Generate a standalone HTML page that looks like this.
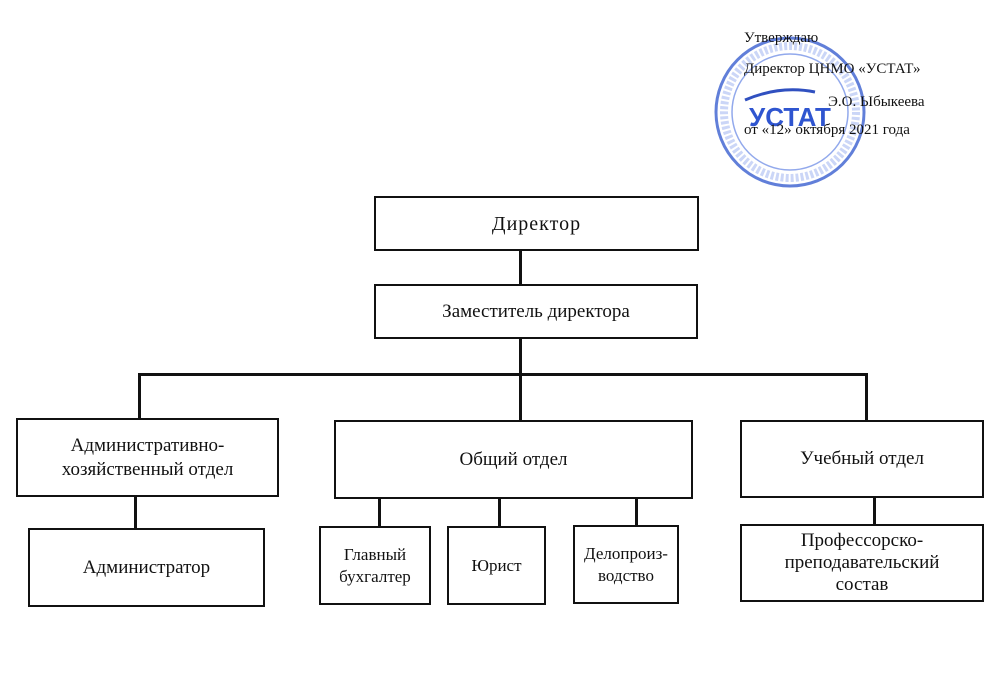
<!DOCTYPE html>
<html><head><meta charset="utf-8"><style>
html,body{margin:0;padding:0;background:#fff}
body{width:1000px;height:696px;position:relative;overflow:hidden;font-family:"Liberation Serif","DejaVu Serif",serif;color:#111}
.b{position:absolute;border:2.5px solid #111;box-sizing:border-box;display:flex;align-items:center;justify-content:center;text-align:center;font-size:19px;line-height:24px;background:#fff}
.l{position:absolute;background:#111}
.t{position:absolute;font-size:15px;white-space:nowrap}
</style></head><body>
<svg style="position:absolute;left:0;top:0" width="1000" height="696">
<circle cx="790" cy="112" r="74" fill="none" stroke="#3a5fd0" stroke-width="3" opacity="0.8"/>
<circle cx="790" cy="112" r="58" fill="none" stroke="#4a6fe0" stroke-width="1.5" opacity="0.6"/>
<circle cx="790" cy="112" r="66" fill="none" stroke="#6a8ae8" stroke-width="8" opacity="0.35" stroke-dasharray="3 2"/>
<text x="790" y="126" text-anchor="middle" font-family="Liberation Sans,sans-serif" font-weight="bold" font-size="26" fill="#2f55d0">УСТАТ</text>
<path d="M745 100 Q780 85 815 92" stroke="#3050c0" stroke-width="3" fill="none"/>
</svg>
<div class="t" style="left:744px;top:30px">Утверждаю</div>
<div class="t" style="left:744px;top:61px">Директор ЦНМО «УСТАТ»</div>
<div class="t" style="left:828px;top:94px">Э.О. Ыбыкеева</div>
<div class="t" style="left:744px;top:122px">от «12» октября 2021 года</div>

<div class="b" style="left:374px;top:196px;width:325px;height:55px;font-size:20px;letter-spacing:1px">Директор</div>
<div class="l" style="left:519px;top:250px;width:2.5px;height:35px"></div>
<div class="b" style="left:374px;top:284px;width:324px;height:55px">Заместитель директора</div>
<div class="l" style="left:519px;top:338px;width:2.5px;height:83px"></div>
<div class="l" style="left:138px;top:373px;width:729px;height:2.5px"></div>
<div class="l" style="left:138px;top:373px;width:2.5px;height:46px"></div>
<div class="l" style="left:865px;top:373px;width:2.5px;height:48px"></div>

<div class="b" style="left:16px;top:418px;width:263px;height:79px">Административно-<br>хозяйственный отдел</div>
<div class="l" style="left:134px;top:496px;width:2.5px;height:33px"></div>
<div class="b" style="left:28px;top:528px;width:237px;height:79px">Администратор</div>

<div class="b" style="left:334px;top:420px;width:359px;height:79px">Общий отдел</div>
<div class="l" style="left:378px;top:498px;width:2.5px;height:29px"></div>
<div class="l" style="left:498px;top:498px;width:2.5px;height:29px"></div>
<div class="l" style="left:635px;top:498px;width:2.5px;height:28px"></div>
<div class="b" style="left:319px;top:526px;width:112px;height:79px;font-size:17px;line-height:22px">Главный<br>бухгалтер</div>
<div class="b" style="left:447px;top:526px;width:99px;height:79px;font-size:17px">Юрист</div>
<div class="b" style="left:573px;top:525px;width:106px;height:79px;font-size:17px;line-height:22px">Делопроиз-<br>водство</div>

<div class="b" style="left:740px;top:420px;width:244px;height:78px">Учебный отдел</div>
<div class="l" style="left:873px;top:497px;width:2.5px;height:29px"></div>
<div class="b" style="left:740px;top:524px;width:244px;height:78px;line-height:22px">Профессорско-<br>преподавательский<br>состав</div>
</body></html>
